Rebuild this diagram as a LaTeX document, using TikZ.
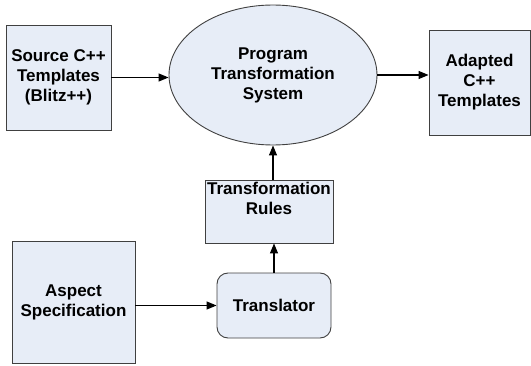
\documentclass[tikz,border=0pt]{standalone}
\usepackage{fontspec}
\setmainfont{Liberation Sans}
\usetikzlibrary{arrows.meta,shapes.geometric}
\definecolor{boxfill}{RGB}{231,237,247}
\definecolor{boxline}{RGB}{64,64,64}
\begin{document}
\begin{tikzpicture}[x=1pt,y=1pt,
  every node/.style={font=\fontsize{17}{20}\selectfont\bfseries, align=center, inner sep=0pt},
  blk/.style={draw=boxline, fill=boxfill, line width=0.9pt},
  rbox/.style={blk, rectangle},
  oval/.style={blk, ellipse},
  flow/.style={line width=1.1pt, -{Triangle[length=10pt,width=8pt]}}]
\useasboundingbox (0,0) rectangle (531,365);
% boxes
\node[rbox, minimum width=105, minimum height=105] (src) at (58.5,287.5) {Source C++\\Templates\\(Blitz++)};
\node[oval, minimum width=208, minimum height=140] (pts) at (273,290) {Program\\Transformation\\System};
\node[rbox, minimum width=101, minimum height=105] (out) at (479.5,282.5) {Adapted\\C++\\Templates};
\node[rbox, minimum width=128, minimum height=63] (rules) at (269,153.5) {};
\node[anchor=north] (rulestxt) at ([yshift=-2]rules.north) {Transformation\\Rules};
\node[rbox, minimum width=123, minimum height=122] (asp) at (73.5,63) {Aspect\\Specification};
\node[rbox, rounded corners=11pt, minimum width=114, minimum height=65] (trl) at (274,59.5) {Translator};
% connectors
\draw[flow] (src.east) -- (src.east -| pts.west);
\draw[flow] (pts.east) -- (pts.east -| out.west);
\draw[flow] (rules.north -| pts.south) -- (pts.south);
\draw[flow] (trl.north) -- (trl.north |- rules.south);
\draw[flow] (asp.east |- trl.west) -- (trl.west);
\end{tikzpicture}
\end{document}
